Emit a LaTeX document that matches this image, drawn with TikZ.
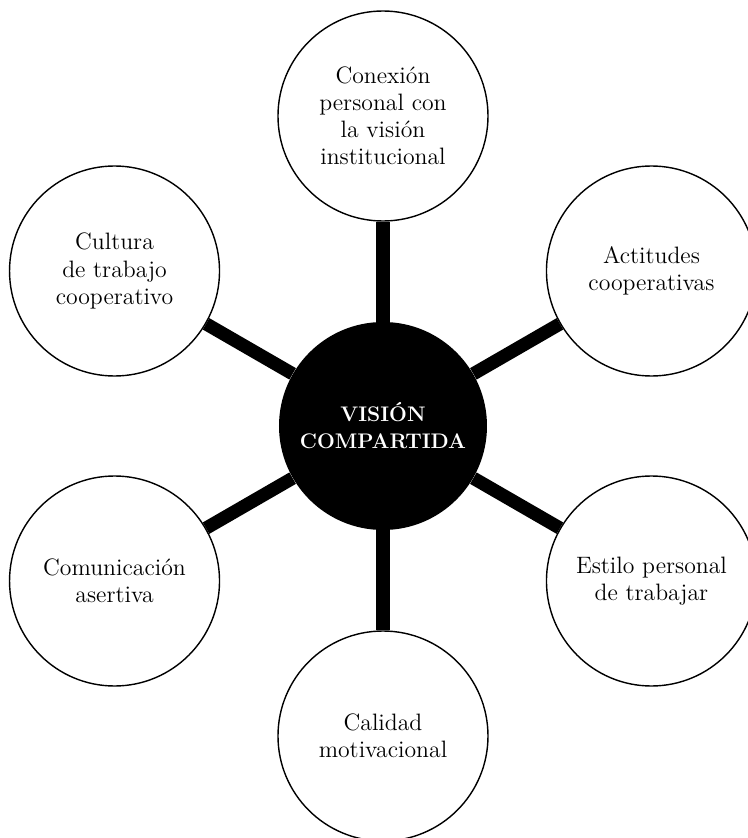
\documentclass[tikz,border=0pt]{standalone}
\usepackage{tikz}
\usetikzlibrary{positioning}

\begin{document}
\begin{tikzpicture}[
    idea/.style={circle, draw, line width=0.8pt, fill=white, minimum size=4.2cm,
        inner sep=0pt, align=center, font=\fontsize{13.5}{15.4}\selectfont},
    hub/.style={circle, fill=black, text=white, minimum size=4.16cm, inner sep=0pt,
        align=center, font=\bfseries\fontsize{12}{15.4}\selectfont},
    spoke/.style={line width=7.5pt}]
    \useasboundingbox (-7.66,-8.24) rectangle (7.28,8.52);
    % centre
    \node[hub] (vision) at (0,0) {VISIÓN\\COMPARTIDA};
    % six ideas around it
    \node[idea] (conexion) at (90:6.2) {Conexión\\personal con\\la visión\\institucional};
    \node[idea] (actitudes) at (30:6.2) {Actitudes\\cooperativas};
    \node[idea] (estilo) at (-30:6.2) {Estilo personal\\de trabajar};
    \node[idea] (calidad) at (-90:6.2) {Calidad\\motivacional};
    \node[idea] (comunicacion) at (-150:6.2) {Comunicación\\asertiva};
    \node[idea] (cultura) at (150:6.2) {Cultura\\de trabajo\\cooperativo};
    \foreach \n in {conexion,actitudes,estilo,calidad,comunicacion,cultura}
        \draw[spoke] (vision) -- (\n);
\end{tikzpicture}
\end{document}
